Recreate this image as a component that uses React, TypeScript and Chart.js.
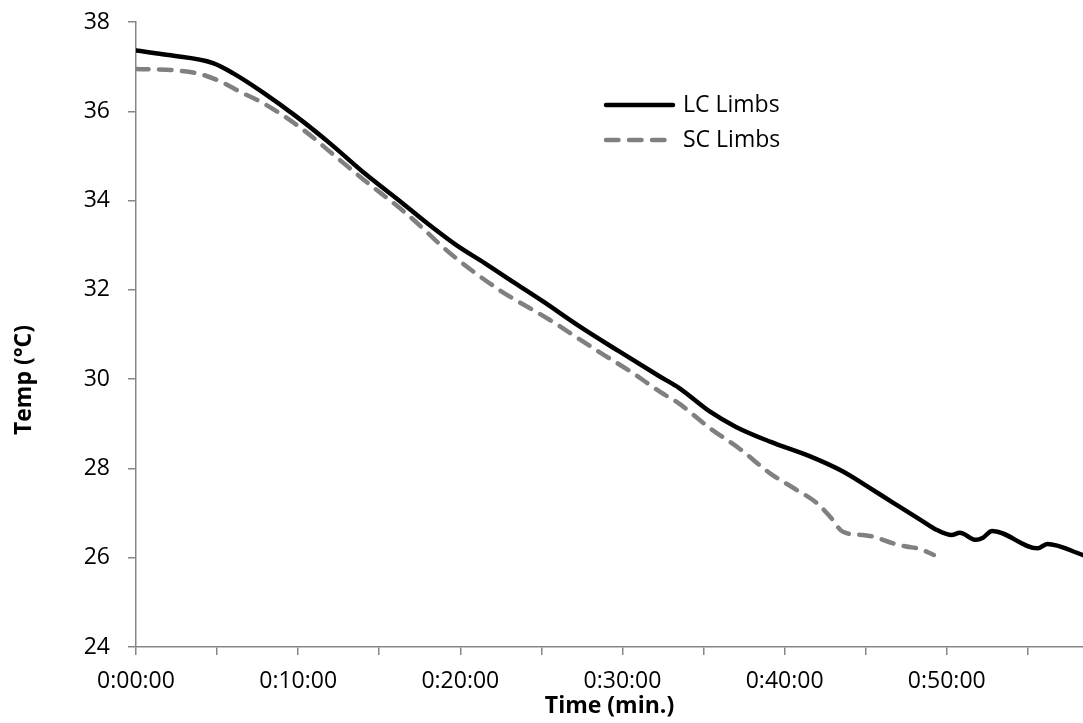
import React, { useEffect, useRef } from 'react';
import { Chart, registerables } from 'chart.js';

Chart.register(...registerables);

// Time in minutes from start
const lcMinutes = [0, 2, 4.75, 6, 7.8, 9.9, 12, 14, 16.3, 18, 19.8, 21.5, 23.2, 25.1, 27.4, 29.8, 32.3, 33.5, 35.4, 37, 39.1, 41.5, 43.6, 45, 46.7, 48.5, 49.4, 50.3, 50.8, 51.8, 52.2, 52.8, 55.6, 56.2, 58.4];
const lcTemps = [37.36, 37.26, 37.08, 36.85, 36.43, 35.88, 35.27, 34.64, 33.98, 33.48, 32.99, 32.6, 32.19, 31.74, 31.17, 30.62, 30.06, 29.8, 29.27, 28.93, 28.6, 28.28, 27.93, 27.62, 27.23, 26.82, 26.62, 26.51, 26.56, 26.4, 26.44, 26.6, 26.21, 26.31, 26.06];

const scMinutes = [0, 2.3, 3.9, 5.2, 6.4, 7.85, 10.3, 12.2, 14, 16.7, 19.5, 22.4, 25.5, 28.6, 30.5, 32.3, 33.5, 35.4, 37.3, 39.1, 40.6, 42, 42.8, 43.6, 44.8, 45.5, 46.7, 47.5, 48.3, 49.2];
const scTemps = [36.95, 36.92, 36.84, 36.67, 36.44, 36.18, 35.59, 35.02, 34.48, 33.7, 32.78, 32.0, 31.33, 30.6, 30.17, 29.72, 29.45, 28.9, 28.42, 27.89, 27.55, 27.22, 26.92, 26.58, 26.51, 26.47, 26.32, 26.25, 26.2, 26.06];

const seriesNames = ['LC Limbs', 'SC Limbs'];
const xAxisTitle = 'Time (min.)';
const yAxisTitle = 'Temp (°C)';
const yMin = 24;
const yMax = 38;
const yStep = 2;
const xMin = 0;
const xMax = 58.4;
const xStep = 5;

const FONT = "'Open Sans', 'DejaVu Sans', sans-serif";
const AXIS_COLOR = '#868686';
const LC_COLOR = '#000000';
const SC_COLOR = '#808080';

const fmtTime = (v: number) => {
  if (Math.round(v) % 10 !== 0) return '';
  const m = Math.round(v);
  return `0:${String(m).padStart(2, '0')}:00`;
};

const overlayPlugin = {
  id: 'overlay',
  afterDraw(chart: any) {
    const ctx = chart.ctx as CanvasRenderingContext2D;
    ctx.save();
    // y axis title
    ctx.translate(24, 380);
    ctx.rotate(-Math.PI / 2);
    ctx.font = `bold 23px ${FONT}`;
    ctx.fillStyle = '#000';
    ctx.textAlign = 'center';
    ctx.textBaseline = 'middle';
    ctx.fillText(yAxisTitle, 0, 0);
    ctx.restore();

    // legend
    const items = chart.data.datasets;
    const x0 = 606;
    const x1 = 673;
    const rows = [105, 140];
    items.forEach((ds: any, i: number) => {
      const y = rows[i];
      ctx.save();
      ctx.strokeStyle = ds.borderColor;
      ctx.lineWidth = ds.borderWidth;
      ctx.lineCap = 'round';
      ctx.setLineDash(ds.borderDash || []);
      ctx.beginPath();
      ctx.moveTo(x0, y);
      ctx.lineTo(x1, y);
      ctx.stroke();
      ctx.setLineDash([]);
      ctx.font = `23px ${FONT}`;
      ctx.fillStyle = '#000';
      ctx.textAlign = 'left';
      ctx.textBaseline = 'middle';
      ctx.fillText(ds.label, 683, y);
      ctx.restore();
    });
  },
};

export default function App() {
  const ref = useRef<HTMLCanvasElement | null>(null);

  useEffect(() => {
    if (!ref.current) return;
    const chart = new Chart(ref.current, {
      type: 'line',
      data: {
        datasets: [
          {
            label: seriesNames[0],
            data: lcMinutes.map((m, i) => ({ x: m, y: lcTemps[i] })),
            borderColor: LC_COLOR,
            borderWidth: 4.5,
            pointRadius: 0,
            cubicInterpolationMode: 'monotone',
            borderCapStyle: 'round',
            borderJoinStyle: 'round',
            fill: false,
          },
          {
            label: seriesNames[1],
            data: scMinutes.map((m, i) => ({ x: m, y: scTemps[i] })),
            borderColor: SC_COLOR,
            borderWidth: 4.5,
            borderDash: [12.5, 10.5],
            pointRadius: 0,
            cubicInterpolationMode: 'monotone',
            borderCapStyle: 'round',
            borderJoinStyle: 'round',
            fill: false,
          },
        ],
      },
      options: {
        responsive: false,
        animation: false,
        layout: { padding: { top: 22, right: 0, left: 0, bottom: 0 } },
        plugins: {
          legend: { display: false },
          tooltip: { enabled: false },
        },
        scales: {
          x: {
            type: 'linear',
            min: xMin,
            max: xMax,
            afterFit: (s: any) => { s.height = 76; s.paddingRight = 0; },
            border: { color: AXIS_COLOR, width: 1.5 },
            grid: { drawOnChartArea: false, drawTicks: true, tickLength: 8, color: AXIS_COLOR, lineWidth: 1.5 },
            ticks: {
              stepSize: xStep,
              includeBounds: false,
              autoSkip: false,
              maxRotation: 0,
              padding: 13,
              color: '#000',
              font: { family: FONT, size: 23 },
              callback: (v: any) => fmtTime(Number(v)),
            },
            title: {
              display: true,
              text: xAxisTitle,
              color: '#000',
              font: { family: FONT, size: 23, weight: 'bold' },
              padding: { top: 0, bottom: 3 },
            },
          },
          y: {
            type: 'linear',
            min: yMin,
            max: yMax,
            afterFit: (s: any) => { s.width = 136; s.paddingTop = 0; s.paddingBottom = 0; },
            border: { color: AXIS_COLOR, width: 1.5 },
            grid: { drawOnChartArea: false, drawTicks: true, tickLength: 8, color: AXIS_COLOR, lineWidth: 1.5 },
            ticks: {
              stepSize: yStep,
              padding: 18,
              color: '#000',
              font: { family: FONT, size: 23 },
            },
          },
        },
      },
      plugins: [overlayPlugin],
    } as any);
    return () => chart.destroy();
  }, []);

  return (
    <div style={{ position: 'absolute', left: 0, top: 0, width: 1083, height: 723, background: '#fff' }}>
      <canvas ref={ref} width={1083} height={723} style={{ display: 'block' }} />
    </div>
  );
}
